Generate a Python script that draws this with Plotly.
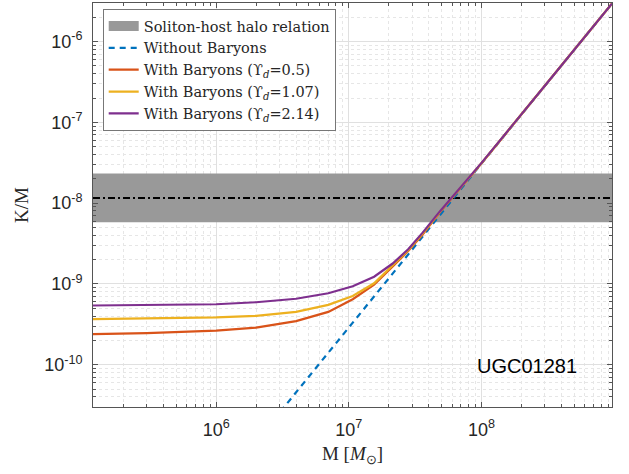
import plotly.graph_objects as go
import math

# ---- data ----
M = [1.18e5, 3e5, 1e6, 2e6, 4e6, 7e6, 1.07e7, 1.55e7, 2.14e7, 2.8e7, 3.6e7, 4.85e7, 1e8, 3e8, 9.62e8]
km_ud05 = [2.40e-10, 2.46e-10, 2.64e-10, 2.88e-10, 3.47e-10, 4.51e-10, 6.47e-10, 9.77e-10, 1.65e-9, 2.55e-9, 4.1e-9, 7.7e-9, 3.12e-8, 2.84e-7, 2.95e-6]
km_ud107 = [3.66e-10, 3.72e-10, 3.85e-10, 4.03e-10, 4.51e-10, 5.51e-10, 7.11e-10, 1.02e-9, 1.73e-9, 2.62e-9, 4.2e-9, 7.8e-9, 3.13e-8, 2.84e-7, 2.95e-6]
km_ud214 = [5.41e-10, 5.53e-10, 5.61e-10, 5.94e-10, 6.56e-10, 7.67e-10, 9.37e-10, 1.23e-9, 1.79e-9, 2.69e-9, 4.32e-9, 7.9e-9, 3.15e-8, 2.84e-7, 2.95e-6]

M_nb = [1.18e5, 1e6, 3e6, 1e7, 3e7, 1e8, 9.62e8]
km_nb = [3.7e-14, 2.75e-12, 2.54e-11, 2.88e-10, 2.66e-9, 3.1e-8, 2.95e-6]

band_center = 1.16e-8
band_lo = 5.8e-9
band_hi = 2.32e-8

x_ticks = [1e6, 1e7, 1e8]
x_ticktext = ["10<sup>6</sup>", "10<sup>7</sup>", "10<sup>8</sup>"]
y_ticks = [1e-10, 1e-9, 1e-8, 1e-7, 1e-6]
y_ticktext = ["10<sup>-10</sup>", "10<sup>-9</sup>", "10<sup>-8</sup>", "10<sup>-7</sup>", "10<sup>-6</sup>"]

band_name = "Soliton-host halo relation"
series_names = ["Without Baryons",
                "With Baryons (ϒ<sub><i>d</i></sub>=0.5)",
                "With Baryons (ϒ<sub><i>d</i></sub>=1.07)",
                "With Baryons (ϒ<sub><i>d</i></sub>=2.14)"]

colors = {"blue": "#0072BD", "red": "#D95319", "yellow": "#EDB120", "purple": "#7E2F8E"}

xmin, xmax = M[0], M[-1]

fig = go.Figure()

# band (drawn), legend entry via a dummy thick line
fig.add_trace(go.Scatter(
    x=[xmin, xmax, xmax, xmin, xmin], y=[band_hi, band_hi, band_lo, band_lo, band_hi],
    fill="toself", fillcolor="#999999", line=dict(width=0, color="#999999"),
    mode="lines", showlegend=False, hoverinfo="skip"))
fig.add_trace(go.Scatter(
    x=[None], y=[None], mode="lines", name=band_name,
    line=dict(color="#999999", width=15)))
# dash-dot center
fig.add_trace(go.Scatter(
    x=[xmin, xmax], y=[band_center, band_center], mode="lines",
    line=dict(color="black", width=2, dash="7px,3px,2px,3px"), showlegend=False))

fig.add_trace(go.Scatter(x=M_nb, y=km_nb, mode="lines", name=series_names[0],
                         line=dict(color=colors["blue"], width=2.2, dash="6px,5px")))
fig.add_trace(go.Scatter(x=M, y=km_ud05, mode="lines", name=series_names[1],
                         line=dict(color=colors["red"], width=2.2)))
fig.add_trace(go.Scatter(x=M, y=km_ud107, mode="lines", name=series_names[2],
                         line=dict(color=colors["yellow"], width=2.2)))
fig.add_trace(go.Scatter(x=M, y=km_ud214, mode="lines", name=series_names[3],
                         line=dict(color=colors["purple"], width=2.2)))

axis_common = dict(
    type="log", showline=True, linecolor="#555555", linewidth=1, mirror="allticks",
    ticks="inside", ticklen=5, tickcolor="#555555", automargin=False,
    showgrid=True, gridcolor="#e0e0e0", gridwidth=1, zeroline=False,
    tickfont=dict(family="Liberation Sans", size=18, color="#262626"),
    minor=dict(dtick="D1", ticks="inside", ticklen=3, tickcolor="#555555",
               showgrid=True, gridcolor="#e6e6e6", griddash="dot", gridwidth=1),
)

fig.update_xaxes(**axis_common, range=[math.log10(xmin), math.log10(xmax)],
                 tickvals=x_ticks, ticktext=x_ticktext, ticklabelstandoff=6,
                 title=dict(text="M [<i>M</i><sub>⊙</sub>]", standoff=8,
                            font=dict(family="Liberation Serif", size=19, color="#262626")))
fig.update_yaxes(**axis_common, range=[math.log10(3e-11), math.log10(3e-6)],
                 tickvals=y_ticks, ticktext=y_ticktext, ticklabelstandoff=6,
                 title=dict(text="K/M", standoff=10,
                            font=dict(family="Liberation Serif", size=19, color="#262626")))

fig.add_annotation(text="UGC01281", xref="paper", yref="paper", x=0.836, y=0.1015,
                   xanchor="center", yanchor="middle", showarrow=False,
                   font=dict(family="Liberation Sans", size=20, color="black"))

fig.update_layout(
    width=629, height=474,
    margin=dict(l=93, r=17, t=3, b=67, autoexpand=False),
    paper_bgcolor="white", plot_bgcolor="white",
    legend=dict(x=0.0187, y=0.985, xanchor="left", yanchor="top",
                bgcolor="white", bordercolor="#777777", borderwidth=1,
                font=dict(family="DejaVu Serif", size=14.5, color="#262626"),
                tracegroupgap=0, itemwidth=30),
    showlegend=True,
)

fig.write_html("out.html", config={"displayModeBar": False},
               post_script="document.body.style.margin='0';document.body.style.padding='0';")
